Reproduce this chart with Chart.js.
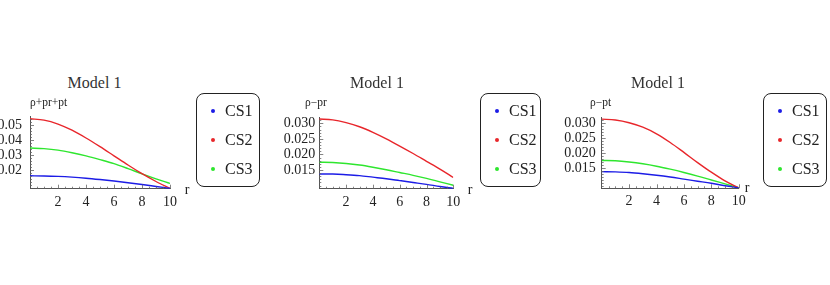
<!DOCTYPE html>
<html><head><meta charset="utf-8">
<script src="https://cdn.jsdelivr.net/npm/chart.js@4.4.0/dist/chart.umd.min.js"></script>
<style>
body{margin:0;background:#fff;width:830px;height:285px;overflow:hidden;position:relative;font-family:"Liberation Serif","Times New Roman",serif;color:#222}
canvas{position:absolute}
.t{position:absolute;white-space:nowrap;line-height:1;transform:translate(-50%,-50%)}
.tl{position:absolute;white-space:nowrap;line-height:1;transform:translate(0,-50%)}
.leg{position:absolute;border:1.4px solid #222;border-radius:8px;box-sizing:border-box;background:transparent}
.dot{position:absolute;width:4px;height:4px;border-radius:50%;transform:translate(-50%,-50%)}
</style>
</head><body>
<script>
// ---------- data ----------
const rValues = [0,1,2,3,4,5,6,7,8,9,10];
const seriesNames = ['CS1','CS2','CS3'];
const panelTitles = ['Model 1','Model 1','Model 1'];
const yAxisLabels = ['\u03c1+pr+pt','\u03c1\u2212pr','\u03c1\u2212pt'];
const xAxisLabel = 'r';
const xTickValues = [2,4,6,8,10];
const xTickLabels = ['2','4','6','8','10'];

// panel 1 : rho+pr+pt
const p1CS1 = [0.0162,0.0161,0.0158,0.0153,0.0146,0.0137,0.0127,0.0116,0.0104,0.0091,0.0078];
const p1CS2 = [0.0542,0.0533,0.0507,0.0466,0.0414,0.0356,0.0295,0.0234,0.0176,0.0124,0.0078];
const p1CS3 = [0.0347,0.0343,0.0333,0.0316,0.0295,0.0270,0.0243,0.0210,0.0175,0.0142,0.0111];
const p1YTicks = [0.02,0.03,0.04,0.05];
const p1YTickLabels = ['0.02','0.03','0.04','0.05'];

// panel 2 : rho-pr
const p2CS1 = [0.0137,0.0137,0.0135,0.0132,0.0127,0.0122,0.0116,0.0110,0.0104,0.0097,0.0091];
const p2CS2 = [0.0314,0.0311,0.0302,0.0289,0.0271,0.0250,0.0227,0.0203,0.0178,0.0153,0.0126];
const p2CS3 = [0.0175,0.0174,0.0171,0.0166,0.0159,0.0151,0.0142,0.0133,0.0123,0.0112,0.0101];
const p2YTicks = [0.015,0.020,0.025,0.030];
const p2YTickLabels = ['0.015','0.020','0.025','0.030'];

// panel 3 : rho-pt
const p3CS1 = [0.0139,0.0138,0.0136,0.0132,0.0127,0.0121,0.0114,0.0107,0.0100,0.0092,0.0085];
const p3CS2 = [0.0314,0.0311,0.0302,0.0287,0.0265,0.0236,0.0203,0.0169,0.0137,0.0108,0.0085];
const p3CS3 = [0.0176,0.0175,0.0171,0.0165,0.0157,0.0147,0.0136,0.0124,0.0111,0.0098,0.0085];
const p3YTicks = [0.015,0.020,0.025,0.030];
const p3YTickLabels = ['0.015','0.020','0.025','0.030'];

// ---------- styling / layout ----------
const seriesColors = ['#1c1ce6','#e8262b','#2ee62e'];
const panels = [
  {series:[p1CS1,p1CS2,p1CS3], yTicks:p1YTicks, yLabels:p1YTickLabels, yMin:0.0076, yMax:0.0555, yMinor:0.002,
   canvas:{left:0,top:100,w:200,h:120}, yW:30, padR:30, padT:16.85, xH:31.3, yPad:8,
   title:{x:94.5,y:83}, ylab:{x:30,y:103}, rlab:{x:187,y:190}, legend:{x:196,w:64}},
  {series:[p2CS1,p2CS2,p2CS3], yTicks:p2YTicks, yLabels:p2YTickLabels, yMin:0.0090, yMax:0.0318, yMinor:0.001,
   canvas:{left:280,top:100,w:200,h:120}, yW:39.3, padR:26.7, padT:17.7, xH:31.3, yPad:4,
   title:{x:377,y:83}, ylab:{x:305,y:103}, rlab:{x:470,y:190}, legend:{x:480,w:61}},
  {series:[p3CS1,p3CS2,p3CS3], yTicks:p3YTicks, yLabels:p3YTickLabels, yMin:0.00833, yMax:0.0318, yMinor:0.001,
   canvas:{left:560,top:100,w:200,h:120}, yW:41.7, padR:21.3, padT:17.9, xH:31.7, yPad:6,
   title:{x:658,y:83}, ylab:{x:590,y:103}, rlab:{x:747,y:188}, legend:{x:763,w:64}}
];

const inwardTicks = {
  id:'inwardTicks',
  afterDatasetsDraw(chart, args, opts){
    const {ctx, chartArea:a} = chart;
    const x = chart.scales.x, y = chart.scales.y;
    ctx.save();
    ctx.strokeStyle = '#666'; ctx.lineWidth = 0.8;
    ctx.beginPath();
    for (let v = 0.5; v <= 10.001; v += 0.5) {
      const px = Math.round(x.getPixelForValue(v)) + 0.5;
      const len = (Math.abs(v/2 - Math.round(v/2)) < 1e-6) ? 4 : 2;
      ctx.moveTo(px, a.bottom); ctx.lineTo(px, a.bottom - len);
    }
    const step = opts.yMinor;
    const start = Math.ceil(opts.yMin/step)*step;
    for (let v = start; v <= opts.yMax + 1e-9; v += step) {
      const py = Math.round(y.getPixelForValue(v)) + 0.5;
      if (py > a.bottom - 1) continue;
      const isMajor = opts.yTicks.some(t => Math.abs(t - v) < step/10);
      const len = isMajor ? 4 : 2;
      ctx.moveTo(a.left, py); ctx.lineTo(a.left + len, py);
    }
    ctx.stroke();
    ctx.restore();
  }
};

const fontFam = '"Liberation Serif","Times New Roman",serif';

panels.forEach((p, i) => {
  const cv = document.createElement('canvas');
  cv.width = p.canvas.w; cv.height = p.canvas.h;
  cv.style.left = p.canvas.left + 'px'; cv.style.top = p.canvas.top + 'px';
  cv.style.width = p.canvas.w + 'px'; cv.style.height = p.canvas.h + 'px';
  document.body.appendChild(cv);

  new Chart(cv, {
    type: 'line',
    data: {
      labels: rValues,
      datasets: p.series.map((s, k) => ({
        label: seriesNames[k],
        data: rValues.map((r, j) => ({x:r, y:s[j]})),
        borderColor: seriesColors[k],
        borderWidth: 1.4,
        pointRadius: 0,
        cubicInterpolationMode: 'monotone',
        fill: false
      }))
    },
    options: {
      responsive: false,
      animation: false,
      devicePixelRatio: 1,
      layout: {padding: {left:0, right:p.padR, top:p.padT, bottom:0}},
      plugins: {
        legend: {display:false}, title: {display:false}, tooltip: {enabled:false},
        inwardTicks: {yMin:p.yMin, yMax:p.yMax, yMinor:p.yMinor, yTicks:p.yTicks}
      },
      scales: {
        x: {
          type: 'linear', min: 0, max: 10,
          grid: {display:false, drawTicks:false},
          border: {display:true, color:'#555', width:1},
          afterBuildTicks: s => { s.ticks = xTickValues.map(v => ({value:v})); },
          afterFit: s => { s.height = p.xH; },
          ticks: {
            autoSkip:false, maxRotation:0, padding:5, color:'#222',
            font:{family:fontFam, size:14},
            callback: v => { const idx = xTickValues.indexOf(v); return idx >= 0 ? xTickLabels[idx] : ''; }
          }
        },
        y: {
          type: 'linear', min: p.yMin, max: p.yMax,
          grid: {display:false, drawTicks:false},
          border: {display:true, color:'#555', width:1},
          afterBuildTicks: s => { s.ticks = p.yTicks.map(v => ({value:v})); },
          afterFit: s => { s.width = p.yW; },
          ticks: {
            autoSkip:false, padding:p.yPad, color:'#222',
            font:{family:fontFam, size:14},
            callback: v => { const idx = p.yTicks.findIndex(t => Math.abs(t - v) < 1e-9); return idx >= 0 ? p.yLabels[idx] : ''; }
          }
        }
      }
    },
    plugins: [inwardTicks]
  });

  const mk = (cls, txt, x, y, size) => {
    const d = document.createElement('div');
    d.className = cls; d.textContent = txt;
    d.style.left = x + 'px'; d.style.top = y + 'px'; d.style.fontSize = size + 'px';
    document.body.appendChild(d);
    return d;
  };
  mk('t', panelTitles[i], p.title.x, p.title.y, 16).style.color = '#333';
  mk('tl', yAxisLabels[i], p.ylab.x, p.ylab.y, 11.5);
  mk('t', xAxisLabel, p.rlab.x, p.rlab.y, 14);

  const box = document.createElement('div');
  box.className = 'leg';
  box.style.left = p.legend.x + 'px'; box.style.top = '93px';
  box.style.width = p.legend.w + 'px'; box.style.height = '94px';
  document.body.appendChild(box);
  const rows = [111, 140, 169];
  seriesNames.forEach((n, k) => {
    const dot = document.createElement('div');
    dot.className = 'dot';
    dot.style.left = (p.legend.x + 17) + 'px'; dot.style.top = rows[k] + 'px';
    dot.style.background = seriesColors[k];
    document.body.appendChild(dot);
    mk('tl', n, p.legend.x + 29, rows[k], 16);
  });
});
</script>
</body></html>
